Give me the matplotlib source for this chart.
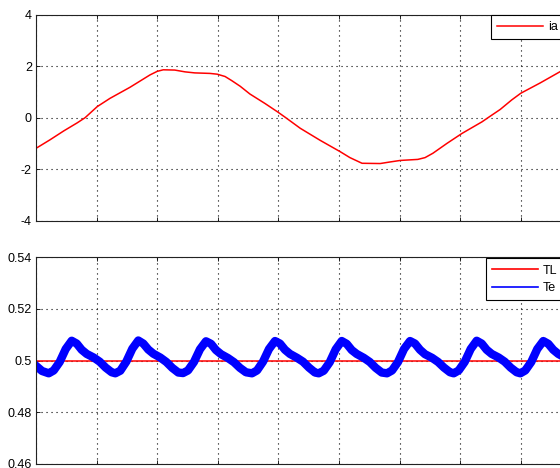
import numpy as np
import matplotlib
matplotlib.use('Agg')
import matplotlib.pyplot as plt
from matplotlib.ticker import FuncFormatter

plt.rcParams['font.family'] = ['Liberation Sans', 'DejaVu Sans']
plt.rcParams['axes.unicode_minus'] = False

# phase current ia (time in s, current in A)
t_ia = [0.000, 0.023, 0.046, 0.068, 0.081, 0.101, 0.122, 0.155, 0.188, 0.200,
        0.210, 0.229, 0.246, 0.262, 0.287, 0.299, 0.312, 0.323, 0.337, 0.353,
        0.378, 0.399, 0.411, 0.436, 0.469, 0.502, 0.518, 0.538, 0.568, 0.584,
        0.601, 0.630, 0.642, 0.655, 0.678, 0.703, 0.736, 0.749, 0.766, 0.785,
        0.800, 0.832, 0.865, 0.881]
ia = [-1.19, -0.86, -0.51, -0.20, 0.00, 0.43, 0.75, 1.18, 1.66, 1.80,
      1.86, 1.85, 1.78, 1.74, 1.72, 1.69, 1.60, 1.44, 1.22, 0.92,
      0.55, 0.22, 0.02, -0.41, -0.88, -1.32, -1.55, -1.77, -1.78, -1.72,
      -1.66, -1.62, -1.55, -1.38, -1.00, -0.61, -0.16, 0.05, 0.32, 0.69,
      0.95, 1.35, 1.79, 1.86]

# load torque TL and electromagnetic torque Te (N.m)
t_tl = [0.0, 0.9]
TL = [0.5, 0.5]

t_te = [0.0000, 0.0099,
        0.0210, 0.0292, 0.0391, 0.0490, 0.0589, 0.0672, 0.0754, 0.0837, 0.0952, 0.1051, 0.1150, 0.1249,
        0.1309, 0.1391, 0.1490, 0.1589, 0.1688, 0.1771, 0.1853, 0.1936, 0.2051, 0.2150, 0.2249, 0.2348,
        0.2426, 0.2508, 0.2607, 0.2706, 0.2805, 0.2888, 0.2970, 0.3053, 0.3168, 0.3267, 0.3366, 0.3465,
        0.3564, 0.3647, 0.3746, 0.3845, 0.3944, 0.4026, 0.4109, 0.4191, 0.4307, 0.4406, 0.4505, 0.4604,
        0.4665, 0.4748, 0.4847, 0.4946, 0.5045, 0.5127, 0.5210, 0.5292, 0.5408, 0.5507, 0.5606, 0.5705,
        0.5792, 0.5875, 0.5974, 0.6073, 0.6172, 0.6254, 0.6337, 0.6419, 0.6535, 0.6634, 0.6733, 0.6832,
        0.6893, 0.6975, 0.7074, 0.7173, 0.7272, 0.7355, 0.7437, 0.7520, 0.7635, 0.7734, 0.7833, 0.7932,
        0.7992, 0.8074, 0.8173, 0.8272, 0.8371, 0.8454, 0.8536, 0.8619, 0.8734, 0.8833]
Te = [0.4980, 0.4960,
      0.4951, 0.4962, 0.4995, 0.5045, 0.5077, 0.5066, 0.5042, 0.5026, 0.5012, 0.4996, 0.4973, 0.4955,
      0.4951, 0.4961, 0.4996, 0.5046, 0.5078, 0.5066, 0.5043, 0.5027, 0.5012, 0.4995, 0.4972, 0.4954,
      0.4952, 0.4962, 0.4995, 0.5044, 0.5075, 0.5065, 0.5041, 0.5025, 0.5010, 0.4994, 0.4972, 0.4955,
      0.4951, 0.4962, 0.4996, 0.5045, 0.5076, 0.5066, 0.5042, 0.5026, 0.5011, 0.4996, 0.4973, 0.4954,
      0.4951, 0.4961, 0.4994, 0.5044, 0.5076, 0.5065, 0.5041, 0.5026, 0.5011, 0.4995, 0.4972, 0.4954,
      0.4951, 0.4962, 0.4995, 0.5045, 0.5076, 0.5066, 0.5042, 0.5025, 0.5011, 0.4995, 0.4973, 0.4955,
      0.4951, 0.4962, 0.4995, 0.5045, 0.5077, 0.5066, 0.5042, 0.5026, 0.5012, 0.4996, 0.4973, 0.4955,
      0.4951, 0.4962, 0.4995, 0.5045, 0.5076, 0.5065, 0.5042, 0.5026, 0.5011, 0.4996]

ia_ticks = [-4, -2, 0, 2, 4]
te_ticks = [0.46, 0.48, 0.50, 0.52, 0.54]
x_ticks = [0.0, 0.1, 0.2, 0.3, 0.4, 0.5, 0.6, 0.7, 0.8, 0.9]

fig = plt.figure(figsize=(5.6, 4.68), dpi=100)
# axes run past the right edge, as in the cropped original
ax1 = fig.add_axes([36 / 560, 1 - 220.7 / 468, 545.4 / 560, 206 / 468])
ax2 = fig.add_axes([36 / 560, 1 - 464 / 468, 545.4 / 560, 206.7 / 468])

ax1.plot(t_ia, ia, color='#ff0000', lw=1.1, label='ia')
ax2.plot(t_tl, TL, color='#ff0000', lw=1.1, label='TL')
ax2.plot(t_te, Te, color='#0000ff', lw=6.0, solid_joinstyle='round', label='Te')

ax1.set_ylim(-4, 4)
ax1.set_yticks(ia_ticks)
ax2.set_ylim(0.46, 0.54)
ax2.set_yticks(te_ticks)
ax2.yaxis.set_major_formatter(FuncFormatter(lambda v, p: '%g' % round(v, 2)))

for ax in (ax1, ax2):
    ax.set_xlim(0, 0.9)
    ax.set_xticks(x_ticks)
    ax.grid(True, color='black', linestyle=(0, (1, 3.5)), lw=0.8)
    ax.tick_params(direction='in', length=3, width=0.6, top=True, right=True,
                   labelbottom=False, labelsize=9, pad=3, colors='black')
    for s in ax.spines.values():
        s.set_linewidth(0.8)
        s.set_color('#222222')

leg1 = ax1.legend(loc='upper left', bbox_to_anchor=((491 - 36) / 545.4, 1.0),
                  borderaxespad=0, fontsize=9, handlelength=3.65, handletextpad=0.4,
                  borderpad=0.5, fancybox=False, framealpha=1, edgecolor='black')
leg2 = ax2.legend(loc='upper left', bbox_to_anchor=((485.7 - 36) / 545.4, 0.995),
                  borderaxespad=0, fontsize=9, handlelength=3.65, handletextpad=0.4,
                  borderpad=0.5, labelspacing=0.45, fancybox=False, framealpha=1,
                  edgecolor='black')
for leg in (leg1, leg2):
    leg.get_frame().set_linewidth(0.8)
for line in leg2.get_lines():
    line.set_linewidth(1.2)

fig.savefig('out.png', dpi=100)
